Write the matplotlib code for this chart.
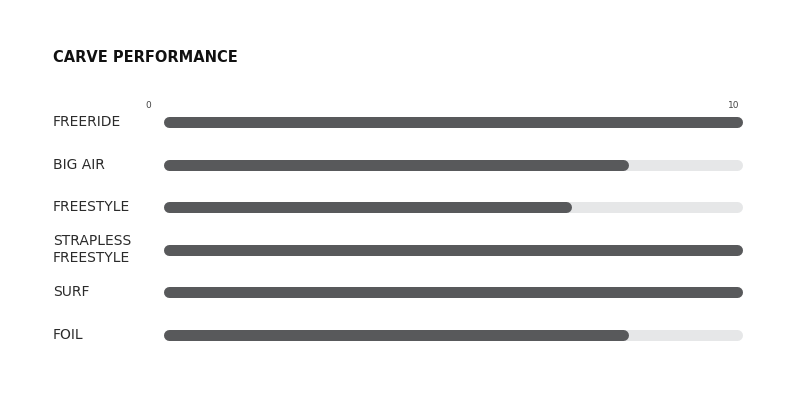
import matplotlib
matplotlib.use("Agg")
import matplotlib.pyplot as plt
import matplotlib.transforms as mtransforms

# data
categories = ["FREERIDE", "BIG AIR", "FREESTYLE", "STRAPLESS\nFREESTYLE", "SURF", "FOIL"]
scores = [10, 8, 7, 10, 10, 8]
scale_max = 10
title = "CARVE PERFORMANCE"

dark = "#58595b"
light = "#e6e7e8"
txt = "#2b2b2b"

plt.rcParams["font.family"] = ["DejaVu Sans"]

W, H = 800, 400
fig = plt.figure(figsize=(8, 4), dpi=100)
fig.patch.set_facecolor("white")

# axes in pixel layout: value 0 -> 168.5px, value 10 -> 736.5px (round caps add 5.5px)
x0, x1 = 168.5, 736.5
y_top, y_bot = 122, 335
step = (y_bot - y_top) / (len(categories) - 1)
ax = fig.add_axes([x0 / W, 1 - (y_bot + step / 2) / H, (x1 - x0) / W, (y_bot - y_top + step) / H])
ax.set_xlim(0, scale_max)
ax.set_ylim(len(categories) - 0.5, -0.5)
ax.axis("off")

lw = 11 * 0.72
for i, (cat, val) in enumerate(zip(categories, scores)):
    ax.plot([0, scale_max], [i, i], color=light, lw=lw, solid_capstyle="round", clip_on=False)
    ax.plot([0, val], [i, i], color=dark, lw=lw, solid_capstyle="round", clip_on=False)

trans = mtransforms.blended_transform_factory(fig.transFigure, ax.transData)
for i, cat in enumerate(categories):
    ax.text(53 / W, i, cat, transform=trans, ha="left", va="center",
            fontsize=10, color=txt, linespacing=1.25)

# scale ticks
ax.text(148 / W, 1 - 106 / H, "0", transform=fig.transFigure, ha="center", va="center",
        fontsize=6.5, color="#444444")
ax.text(734 / W, 1 - 106 / H, str(scale_max), transform=fig.transFigure, ha="center", va="center",
        fontsize=6.5, color="#444444")

fig.text(53 / W, 1 - 58 / H, title, ha="left", va="center", fontsize=10.5,
         fontweight="bold", color="#111111")

fig.savefig("out.png", dpi=100, facecolor="white")
